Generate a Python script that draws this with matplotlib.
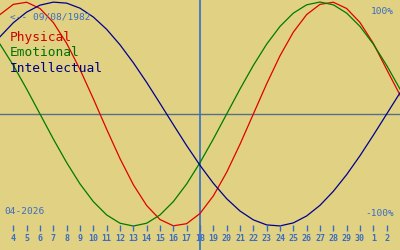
import matplotlib
matplotlib.use("Agg")
import matplotlib.pyplot as plt
import matplotlib.transforms as mtransforms

# days of April 2026 (May 1 = 31, May 2 = 32 ...)
days = list(range(3, 35))
physical = [0.888, 0.979, 0.998, 0.942, 0.817, 0.631, 0.398, 0.136, -0.136, -0.398,
            -0.631, -0.817, -0.942, -0.998, -0.979, -0.888, -0.731, -0.520, -0.270, 0.0,
            0.270, 0.520, 0.731, 0.888, 0.979, 0.998, 0.942, 0.817, 0.631, 0.398,
            0.170, -0.136]
emotional = [0.624, 0.434, 0.223, 0.0, -0.223, -0.434, -0.624, -0.782, -0.901, -0.975,
             -1.0, -0.975, -0.901, -0.782, -0.624, -0.434, -0.223, 0.0, 0.223, 0.434,
             0.624, 0.782, 0.901, 0.975, 1.0, 0.975, 0.901, 0.782, 0.624, 0.434,
             0.223, 0.0]
intellectual = [0.690, 0.815, 0.910, 0.972, 0.999, 0.990, 0.945, 0.866, 0.756, 0.618,
                0.458, 0.282, 0.095, -0.095, -0.282, -0.458, -0.618, -0.756, -0.866, -0.945,
                -0.990, -0.999, -0.972, -0.910, -0.815, -0.690, -0.541, -0.372, -0.189, 0.0,
                0.189, 0.372]

tick_days = list(range(4, 33))
tick_labels = [str(d) for d in range(4, 31)] + ["1", "2"]
today = 18
birth_label = "<-- 09/08/1982"
month_label = "04-2026"

bg = "#e0d282"
txt_blue = "#3a6cc4"
mono = "DejaVu Sans Mono"

fig = plt.figure(figsize=(4, 2.5), dpi=100, facecolor=bg)
ax = fig.add_axes([0, 0, 1, 1], facecolor=bg)
ax.set_xlim(3, 33)
ax.set_ylim(-1.214, 1.018)
ax.axis("off")

ax.axhline(0, color="#5a6e8c", lw=1)
ax.axvline(today, color="#2f6fc8", lw=1.2)

ax.plot(days, physical, color="#e00000", lw=0.9)
ax.plot(days, emotional, color="#007a00", lw=0.9)
ax.plot(days, intellectual, color="#000090", lw=0.9)

# day ticks along the bottom
trans = mtransforms.blended_transform_factory(ax.transData, ax.transAxes)
ax.vlines(tick_days, 0.076, 0.10, transform=trans, color=txt_blue, lw=1)
for d, lab in zip(tick_days, tick_labels):
    ax.text(d, 0.046, lab, transform=trans, ha="center", va="center",
            fontsize=6.0, color=txt_blue, family=mono, fontweight="bold")

ax.text(0.025, 0.932, birth_label, transform=ax.transAxes, ha="left", va="center",
        fontsize=6.8, color=txt_blue, family=mono)
ax.text(0.985, 0.952, "100%", transform=ax.transAxes, ha="right", va="center",
        fontsize=6.8, color=txt_blue, family=mono)
ax.text(0.985, 0.148, "-100%", transform=ax.transAxes, ha="right", va="center",
        fontsize=6.8, color=txt_blue, family=mono)
ax.text(0.01, 0.152, month_label, transform=ax.transAxes, ha="left", va="center",
        fontsize=6.8, color=txt_blue, family=mono)

for i, (name, col) in enumerate([("Physical", "#d00000"), ("Emotional", "#007000"),
                                 ("Intellectual", "#000080")]):
    ax.text(0.025, 0.848 - i * 0.06, name, transform=ax.transAxes, ha="left",
            va="center", fontsize=9.3, color=col, family=mono)

fig.savefig("out.png", dpi=100, facecolor=bg)
